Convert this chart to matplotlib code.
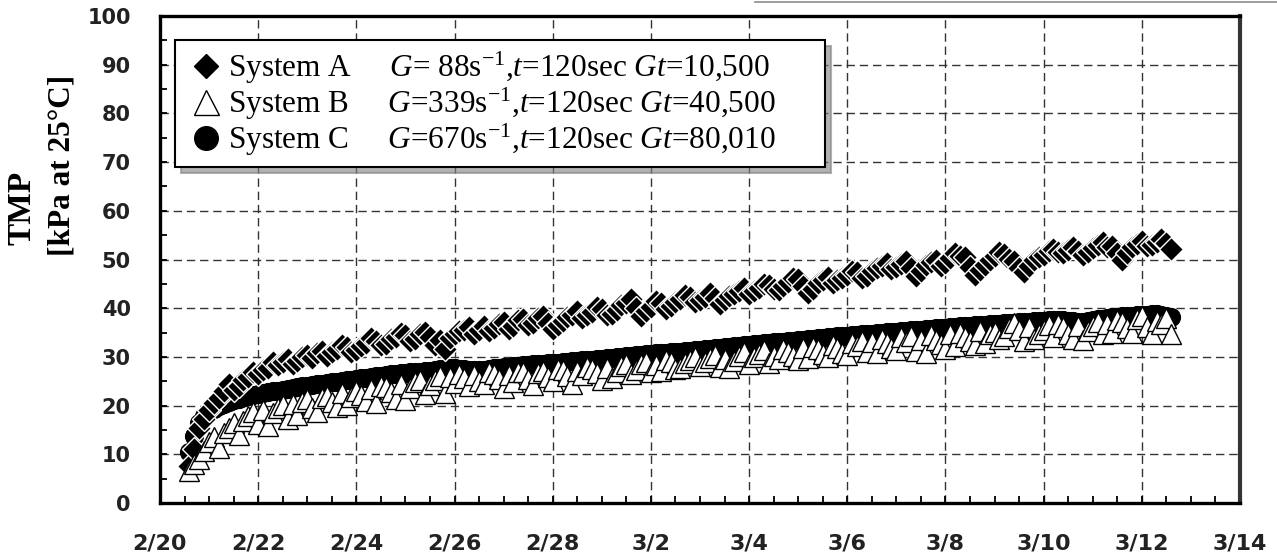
import matplotlib.pyplot as plt
from matplotlib.lines import Line2D
from matplotlib.ticker import MultipleLocator

plt.rcParams["mathtext.fontset"] = "custom"
plt.rcParams["mathtext.rm"] = "Liberation Serif"
plt.rcParams["mathtext.it"] = "Liberation Serif:italic"

# days after 2/20
DAYS = [
    0.6, 0.7, 0.8, 0.9, 1.0, 1.1, 1.2, 1.3, 1.4, 1.5,
    1.6, 1.7, 1.8, 1.9, 2.0, 2.1, 2.2, 2.3, 2.4, 2.5,
    2.6, 2.7, 2.8, 2.9, 3.0, 3.1, 3.2, 3.3, 3.4, 3.5,
    3.6, 3.7, 3.8, 3.9, 4.0, 4.1, 4.2, 4.3, 4.4, 4.5,
    4.6, 4.7, 4.8, 4.9, 5.0, 5.1, 5.2, 5.3, 5.4, 5.5,
    5.6, 5.7, 5.8, 5.9, 6.0, 6.1, 6.2, 6.3, 6.4, 6.5,
    6.6, 6.7, 6.8, 6.9, 7.0, 7.1, 7.2, 7.3, 7.4, 7.5,
    7.6, 7.7, 7.8, 7.9, 8.0, 8.1, 8.2, 8.3, 8.4, 8.5,
    8.6, 8.7, 8.8, 8.9, 9.0, 9.1, 9.2, 9.3, 9.4, 9.5,
    9.6, 9.7, 9.8, 9.9, 10.0, 10.1, 10.2, 10.3, 10.4, 10.5,
    10.6, 10.7, 10.8, 10.9, 11.0, 11.1, 11.2, 11.3, 11.4, 11.5,
    11.6, 11.7, 11.8, 11.9, 12.0, 12.1, 12.2, 12.3, 12.4, 12.5,
    12.6, 12.7, 12.8, 12.9, 13.0, 13.1, 13.2, 13.3, 13.4, 13.5,
    13.6, 13.7, 13.8, 13.9, 14.0, 14.1, 14.2, 14.3, 14.4, 14.5,
    14.6, 14.7, 14.8, 14.9, 15.0, 15.1, 15.2, 15.3, 15.4, 15.5,
    15.6, 15.7, 15.8, 15.9, 16.0, 16.1, 16.2, 16.3, 16.4, 16.5,
    16.6, 16.7, 16.8, 16.9, 17.0, 17.1, 17.2, 17.3, 17.4, 17.5,
    17.6, 17.7, 17.8, 17.9, 18.0, 18.1, 18.2, 18.3, 18.4, 18.5,
    18.6, 18.7, 18.8, 18.9, 19.0, 19.1, 19.2, 19.3, 19.4, 19.5,
    19.6, 19.7, 19.8, 19.9, 20.0, 20.1, 20.2, 20.3, 20.4, 20.5,
    20.6,
]

# TMP [kPa]
SYS_A = [
    7.5, 11.0, 15.5, 17.2, 19.0, 20.6, 21.5, 23.0, 24.5, 23.2,
    24.0, 25.2, 25.8, 26.8, 26.5, 27.4, 27.8, 28.9, 28.4, 29.0,
    29.6, 28.6, 29.2, 30.0, 30.4, 29.8, 30.9, 31.2, 30.2, 31.0,
    31.6, 32.4, 32.0, 31.0, 31.4, 32.2, 32.8, 33.8, 33.3, 32.4,
    32.7, 33.6, 34.0, 35.0, 34.4, 33.2, 33.6, 34.6, 35.2, 34.0,
    32.5, 33.4, 31.6, 33.8, 34.6, 35.4, 35.6, 36.2, 34.8, 35.6,
    36.3, 35.4, 36.0, 36.8, 37.2, 35.8, 36.4, 37.6, 37.8, 36.6,
    37.0, 38.0, 38.4, 37.0, 35.8, 36.6, 37.4, 38.2, 38.6, 39.4,
    38.0, 38.6, 39.2, 40.2, 39.8, 38.6, 38.8, 39.6, 40.6, 41.0,
    41.8, 40.0, 38.4, 39.4, 40.2, 41.4, 41.0, 39.8, 40.4, 41.2,
    41.8, 42.8, 42.4, 41.2, 41.6, 42.4, 43.2, 42.0, 40.8, 41.6,
    42.6, 43.0, 43.6, 44.2, 43.0, 43.6, 44.2, 45.0, 44.8, 44.0,
    43.8, 44.6, 45.4, 46.2, 46.0, 44.6, 43.2, 44.0, 45.2, 45.8,
    46.4, 45.2, 45.8, 46.2, 46.8, 47.6, 47.4, 46.2, 46.6, 47.6,
    48.2, 48.6, 49.2, 48.0, 48.4, 49.0, 49.6, 48.2, 46.6, 47.6,
    48.8, 49.4, 50.0, 48.6, 49.2, 50.4, 51.4, 50.8, 50.6, 48.4,
    46.8, 47.8, 48.8, 50.0, 50.8, 51.6, 51.2, 50.2, 49.6, 48.2,
    47.4, 48.6, 49.8, 50.6, 51.0, 51.8, 52.2, 51.6, 51.4, 52.0,
    52.6, 51.8, 51.0, 51.6, 52.4, 53.0, 53.6, 52.6, 52.8, 51.4,
    50.0, 51.4, 52.6, 53.2, 53.8, 52.8, 53.0, 53.6, 54.2, 53.4,
    52.2,
]
SYS_B = [
    6.5, 8.0, 9.0, 10.6, 12.5, 13.6, 11.2, 14.4, 15.5, 16.4,
    14.0, 16.8, 17.8, 18.6, 16.2, 19.0, 15.8, 18.4, 19.6, 20.2,
    17.2, 20.4, 18.0, 20.8, 21.4, 19.6, 18.6, 21.6, 22.0, 20.8,
    19.8, 22.6, 20.2, 21.8, 23.0, 22.2, 21.0, 23.4, 20.6, 24.0,
    23.8, 22.8, 21.4, 24.4, 21.2, 23.6, 24.8, 25.2, 22.4, 24.2,
    25.2, 26.0, 22.6, 25.8, 24.6, 26.4, 25.6, 24.0, 26.2, 25.0,
    24.4, 26.8, 26.4, 25.4, 23.6, 26.2, 24.8, 27.0, 26.8, 25.4,
    24.2, 26.6, 27.2, 25.8, 25.0, 27.6, 27.4, 26.0, 24.4, 27.2,
    26.2, 28.0, 27.6, 26.6, 25.2, 27.8, 25.6, 27.0, 28.2, 28.6,
    26.4, 27.4, 28.6, 29.0, 26.8, 28.4, 27.2, 29.4, 29.0, 27.6,
    27.8, 28.8, 29.4, 30.0, 28.2, 29.0, 29.8, 30.4, 28.0, 29.6,
    27.8, 29.2, 30.2, 31.0, 28.6, 30.0, 30.6, 31.4, 28.8, 30.2,
    29.6, 31.6, 31.0, 30.2, 29.4, 31.8, 29.8, 32.0, 31.6, 30.6,
    30.0, 32.4, 31.8, 30.8, 30.4, 32.8, 32.2, 33.2, 31.0, 33.0,
    30.8, 33.6, 32.8, 31.8, 31.4, 34.0, 33.0, 34.2, 31.2, 33.4,
    30.8, 34.4, 33.4, 32.6, 31.6, 34.8, 32.2, 35.0, 34.0, 33.2,
    32.4, 35.4, 32.8, 34.8, 35.2, 33.6, 34.2, 36.0, 37.0, 35.6,
    33.2, 36.2, 33.6, 34.8, 35.6, 36.6, 34.0, 36.8, 36.2, 34.6,
    33.6, 36.4, 33.4, 35.4, 36.4, 37.2, 34.6, 36.8, 35.0, 37.6,
    37.2, 36.0, 35.0, 37.8, 38.4, 36.2, 34.8, 37.4, 36.8, 38.0,
    34.8,
]
SYS_C = [
    10.5, 13.8, 16.5, 17.8, 18.6, 19.3, 19.9, 20.4, 20.8, 21.1,
    21.4, 21.7, 21.9, 22.1, 22.3, 22.5, 22.7, 22.9, 23.1, 23.2,
    23.4, 23.6, 23.8, 24.0, 24.1, 24.3, 24.4, 24.5, 24.6, 24.8,
    24.9, 25.1, 25.2, 25.3, 25.4, 25.6, 25.7, 25.9, 26.0, 26.1,
    26.2, 26.4, 26.5, 26.6, 26.7, 26.9, 27.0, 27.0, 27.1, 27.2,
    27.3, 27.5, 27.6, 27.7, 27.8, 27.6, 27.5, 27.4, 27.3, 27.3,
    27.4, 27.6, 27.7, 27.8, 27.9, 28.0, 28.1, 28.2, 28.3, 28.4,
    28.5, 28.5, 28.6, 28.7, 28.8, 28.8, 28.9, 29.0, 29.1, 29.2,
    29.3, 29.3, 29.4, 29.5, 29.6, 29.7, 29.8, 29.9, 30.0, 30.1,
    30.2, 30.3, 30.4, 30.5, 30.6, 30.7, 30.8, 30.9, 31.0, 31.0,
    31.1, 31.2, 31.3, 31.4, 31.5, 31.6, 31.7, 31.8, 31.9, 32.0,
    32.1, 32.2, 32.3, 32.4, 32.5, 32.6, 32.7, 32.8, 32.9, 33.0,
    33.0, 33.1, 33.2, 33.3, 33.4, 33.5, 33.6, 33.7, 33.8, 33.9,
    34.0, 34.1, 34.2, 34.2, 34.3, 34.4, 34.5, 34.6, 34.7, 34.8,
    34.9, 35.0, 35.1, 35.2, 35.2, 35.3, 35.4, 35.5, 35.6, 35.6,
    35.7, 35.8, 35.9, 36.0, 36.0, 36.1, 36.2, 36.3, 36.3, 36.4,
    36.5, 36.6, 36.6, 36.7, 36.8, 36.8, 36.9, 37.0, 37.0, 37.1,
    37.2, 37.2, 37.3, 37.4, 37.4, 37.5, 37.6, 37.6, 37.5, 37.4,
    37.3, 37.2, 37.2, 37.3, 37.5, 37.7, 37.8, 38.0, 38.1, 38.2,
    38.3, 38.4, 38.5, 38.6, 38.6, 38.7, 38.8, 38.8, 38.6, 38.4,
    38.2,
]

XTICKS = [0, 2, 4, 6, 8, 10, 12, 14, 16, 18, 20, 22]
XLABELS = ["2/20", "2/22", "2/24", "2/26", "2/28", "3/2", "3/4",
           "3/6", "3/8", "3/10", "3/12", "3/14"]
LEGEND_LABELS = [
    r"System A     $G$= 88s$^{-1}$,$t$=120sec $Gt$=10,500      ",
    r"System B     $G$=339s$^{-1}$,$t$=120sec $Gt$=40,500      ",
    r"System C     $G$=670s$^{-1}$,$t$=120sec $Gt$=80,010      ",
]

W, H = 1277, 555
fig = plt.figure(figsize=(W / 100, H / 100), dpi=100)
ax = fig.add_axes([160 / W, 1 - 503 / H, 1080 / W, 487 / H])

ax.plot(DAYS, SYS_C, ls="none", marker="o", ms=13, mfc="black",
        mec="black", mew=0.8, zorder=3)
ax.plot(DAYS, SYS_A, ls="none", marker="D", ms=12, mfc="black",
        mec="white", mew=1.0, zorder=4)
ax.plot(DAYS, SYS_B, ls="none", marker="^", ms=15, mfc="white",
        mec="black", mew=1.0, zorder=5)

ax.set_xlim(0, 22)
ax.set_ylim(0, 100)
ax.set_xticks(XTICKS, XLABELS)
ax.xaxis.set_minor_locator(MultipleLocator(0.5))
ax.yaxis.set_major_locator(MultipleLocator(10))
ax.yaxis.set_minor_locator(MultipleLocator(5))
ax.tick_params(which="both", direction="in", length=5, width=1.3,
               top=False, right=False)
ax.tick_params(axis="x", pad=22, labelsize=16)
ax.tick_params(axis="y", pad=21, labelsize=15)
for lab in ax.get_xticklabels() + ax.get_yticklabels():
    lab.set_fontweight("bold")
    lab.set_color("#222222")

ax.set_axisbelow(True)
ax.grid(True, which="major", color="#333333", linewidth=1,
        linestyle=(0, (6, 3.5)))

for side in ["left", "bottom", "top"]:
    ax.spines[side].set_linewidth(2.4)
ax.spines["right"].set_linewidth(3)
ax.spines["right"].set_color("#333333")

handles = [
    Line2D([], [], ls="none", marker="D", ms=12, mfc="black", mec="black"),
    Line2D([], [], ls="none", marker="^", ms=18, mfc="white", mec="black", mew=1),
    Line2D([], [], ls="none", marker="o", ms=17, mfc="black", mec="black"),
]
leg = ax.legend(
    handles, LEGEND_LABELS,
    loc="upper left", bbox_to_anchor=(15 / 1080, 1 - 24 / 487),
    borderaxespad=0, prop={"family": "Liberation Serif", "size": 22.5},
    fancybox=False, edgecolor="black", framealpha=1,
    shadow={"color": "0.5", "alpha": 0.6, "ox": 4, "oy": -4},
    handlelength=1.4, handletextpad=0.0, labelspacing=0.0,
    borderpad=0.3,
)
leg.get_frame().set_linewidth(1.5)

fig.text(22 / W, 1 - 208 / H, "TMP", rotation=90, ha="center", va="center",
         family="Liberation Serif", weight="bold", size=24)
fig.text(62 / W, 1 - 165 / H, "[kPa at 25°C]", rotation=90, ha="center",
         va="center", family="Liberation Serif", weight="bold", size=22.5)

# stray border line along the top edge of the scan
fig.add_artist(Line2D([755 / W, 1], [1 - 1.5 / H] * 2, color="0.55", lw=1.2,
                      transform=fig.transFigure))

fig.savefig("out.png", dpi=100)
